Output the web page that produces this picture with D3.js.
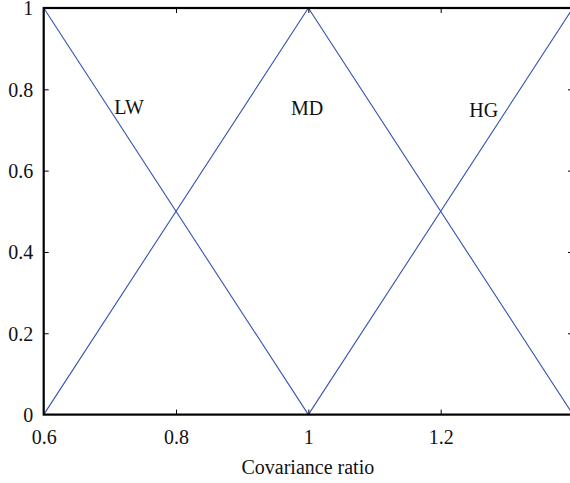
<!DOCTYPE html>
<html>
<head>
<meta charset="utf-8">
<script src="https://cdn.jsdelivr.net/npm/d3@7"></script>
<style>
  html, body { margin: 0; padding: 0; background: #fff; }
  svg { display: block; }
  svg text { font-family: "Liberation Serif", "DejaVu Serif", serif; }
</style>
</head>
<body>
<svg id="chart" width="570" height="483"></svg>
<script>
// Membership functions over the covariance ratio
const xTicks = [0.6, 0.8, 1, 1.2];
const yTicks = [0, 0.2, 0.4, 0.6, 0.8, 1];
const xDomain = [0.6, 1.4];
const yDomain = [0, 1];

const setNames = ["LW", "MD", "HG"];
const lwPoints = [[0.6, 1], [1.0, 0]];
const mdPoints = [[0.6, 0], [1.0, 1], [1.4, 0]];
const hgPoints = [[1.0, 0], [1.4, 1]];
// label anchor positions in data units
const labelX = [0.729, 0.998, 1.265];
const labelY = [0.74, 0.738, 0.733];

const serif = "'Liberation Serif', 'DejaVu Serif', serif";
const svg = d3.select("#chart");
const plotLeft = 43.7, plotRight = 573, plotTop = 8, plotBottom = 414.6;

const x = d3.scaleLinear().domain(xDomain).range([plotLeft, plotRight]);
const y = d3.scaleLinear().domain(yDomain).range([plotBottom, plotTop]);

const line = d3.line().x(d => x(d[0])).y(d => y(d[1]));
const lineColor = "#3553b0";

[lwPoints, mdPoints, hgPoints].forEach(pts => {
  svg.append("path")
    .attr("d", line(pts))
    .attr("fill", "none")
    .attr("stroke", lineColor)
    .attr("stroke-width", 1.1);
});

// set labels
setNames.forEach((name, i) => {
  svg.append("text")
    .attr("x", x(labelX[i]))
    .attr("y", y(labelY[i]))
    .attr("text-anchor", "middle")
    .style("font-family", serif)
    .style("font-size", "20px")
    .attr("fill", "#111")
    .text(name);
});

// frame
svg.append("rect")
  .attr("x", plotLeft).attr("y", plotTop)
  .attr("width", plotRight - plotLeft).attr("height", plotBottom - plotTop)
  .attr("fill", "none").attr("stroke", "#000").attr("stroke-width", 2.2);

// inward ticks on all four sides
const tickLen = 5;
const bottomAxis = d3.axisBottom(x).tickValues(xTicks).tickSizeInner(-tickLen).tickSizeOuter(0).tickFormat(d3.format("~g"));
const topAxis = d3.axisTop(x).tickValues(xTicks.slice(1)).tickSizeInner(-tickLen).tickSizeOuter(0).tickFormat("");
const leftAxis = d3.axisLeft(y).tickValues(yTicks).tickSizeInner(-tickLen).tickSizeOuter(0).tickFormat(d3.format("~g"));
const rightAxis = d3.axisRight(y).tickValues(yTicks.slice(1, -1)).tickSizeInner(-tickLen).tickSizeOuter(0).tickFormat("");

function styleAxis(g) {
  g.attr("font-family", null).attr("font-size", null);
  g.select(".domain").remove();
  g.selectAll(".tick line").attr("stroke", "#000").attr("stroke-width", 1);
  g.selectAll(".tick text")
    .style("font-family", serif)
    .style("font-size", "20px")
    .attr("fill", "#111");
}

const gb = svg.append("g").attr("transform", `translate(0,${plotBottom})`).call(bottomAxis).call(styleAxis);
gb.selectAll(".tick").filter(d => d === 0.6 || d === 1.4).select("line").remove();
gb.selectAll(".tick text").attr("dy", null).attr("y", 29);

svg.append("g").attr("transform", `translate(0,${plotTop})`).call(topAxis).call(styleAxis);

const gl = svg.append("g").attr("transform", `translate(${plotLeft},0)`).call(leftAxis).call(styleAxis);
gl.selectAll(".tick").filter(d => d === 0 || d === 1).select("line").remove();
gl.selectAll(".tick text").attr("dy", null).attr("y", 6.8).attr("x", -10.5);

svg.append("g").attr("transform", `translate(${plotRight},0)`).call(rightAxis).call(styleAxis);

// axis title
svg.append("text")
  .attr("x", (plotLeft + plotRight) / 2 - 0.5)
  .attr("y", 474)
  .attr("text-anchor", "middle")
  .style("font-family", serif)
  .style("font-size", "20px")
  .attr("fill", "#111")
  .text("Covariance ratio");
</script>
</body>
</html>
